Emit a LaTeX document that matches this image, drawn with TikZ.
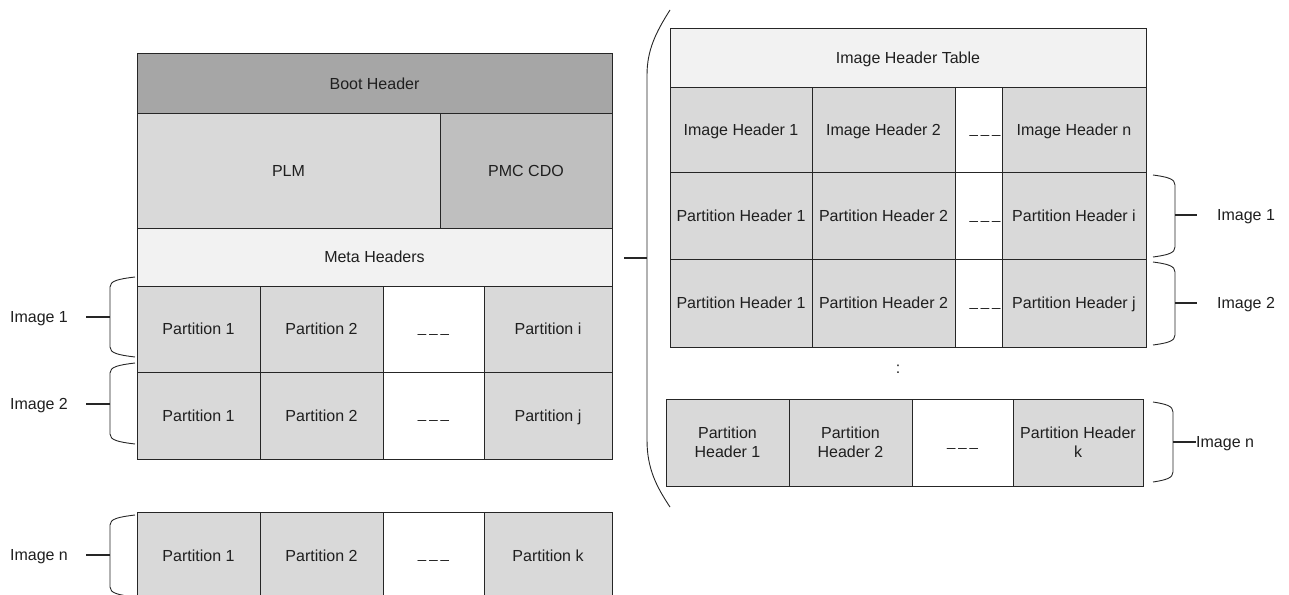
\documentclass[tikz,border=0pt]{standalone}
\usepackage{fontspec}
\setmainfont{Liberation Sans}
\definecolor{bootc}{HTML}{A6A6A6}
\definecolor{plmc}{HTML}{D9D9D9}
\definecolor{pmcc}{HTML}{BFBFBF}
\definecolor{metac}{HTML}{F2F2F2}
\definecolor{partc}{HTML}{D9D9D9}
\definecolor{linec}{HTML}{262626}
\tikzset{
  cellcore/.style={draw=linec, line width=1pt, inner sep=1pt, outer sep=0pt, align=center,
    font=\fontsize{16}{19}\selectfont, text=black!88},
  fixh/.style={text height=12.5pt, text depth=1.5pt},
  bootfill/.style={fill=bootc, fixh},
  plmfill/.style={fill=plmc, fixh},
  pmcfill/.style={fill=pmcc, fixh},
  metafill/.style={fill=metac, fixh},
  partfill/.style={fill=partc, fixh},
  multifill/.style={fill=partc},
  gapfill/.style={fill=white},
  dashtext/.style={inner sep=0pt, anchor=base, font=\fontsize{15}{18}\selectfont, text=black!88},
  lbl/.style={inner sep=0pt, fixh, font=\fontsize{16}{19}\selectfont, text=black!88},
  bracket/.style={draw=linec, line width=0.9pt},
  tieline/.style={draw=linec, line width=1.2pt}
}
\newcommand\cellnode[7]{%
  \node[cellcore,#6,minimum width={(#4-#2)*1pt},minimum height={(#5-#3)*1pt}] (#1) at ({(#2+#4)/2},{(#3+#5)/2}) {#7};}
\newcommand\dashnode[3]{\node[dashtext] (#1) at (#2,#3) {\_\kern3pt\_\kern3pt\_};}
\begin{document}
\begin{tikzpicture}[x=1pt,y=-1pt]
\useasboundingbox (0,0) rectangle (1289,594);
\clip (0,0) rectangle (1289,594);
% ---------- left column ----------
\cellnode{boot}{137}{54}{612}{113}{bootfill}{Boot Header}
\cellnode{plm}{137}{113}{440}{228}{plmfill}{PLM}
\cellnode{pmc}{440}{113}{612}{228}{pmcfill}{PMC CDO}
\cellnode{meta}{137}{228}{612}{286}{metafill}{Meta Headers}
% image 1 row
\cellnode{ap1}{137}{286}{260}{372}{partfill}{Partition 1}
\cellnode{ap2}{260}{286}{383}{372}{partfill}{Partition 2}
\cellnode{apg}{383}{286}{484}{372}{gapfill}{}
\cellnode{api}{484}{286}{612}{372}{partfill}{Partition i}
\dashnode{apd}{433.5}{332}
% image 2 row
\cellnode{bp1}{137}{372}{260}{459}{partfill}{Partition 1}
\cellnode{bp2}{260}{372}{383}{459}{partfill}{Partition 2}
\cellnode{bpg}{383}{372}{484}{459}{gapfill}{}
\cellnode{bpj}{484}{372}{612}{459}{partfill}{Partition j}
\dashnode{bpd}{433.5}{418.5}
% image n row
\cellnode{np1}{137}{512}{260}{599}{partfill}{Partition 1}
\cellnode{np2}{260}{512}{383}{599}{partfill}{Partition 2}
\cellnode{npg}{383}{512}{484}{599}{gapfill}{}
\cellnode{npk}{484}{512}{612}{599}{partfill}{Partition k}
\dashnode{npd}{433.5}{558.5}
% left labels and brackets
\node[lbl] (limg1) at (39,317) {Image 1};
\node[lbl] (limg2) at (39,404) {Image 2};
\node[lbl] (limgn) at (39,555) {Image n};
\coordinate (lb1tip) at (110,317);
\coordinate (lb2tip) at (110,404);
\coordinate (lbntip) at (110,555);
\coordinate (lb1end) at (86,317);
\coordinate (lb2end) at (86,404);
\coordinate (lbnend) at (86,555);
\draw[bracket] (135,277) .. controls (118,279) and (110,281) .. (110,287) -- (110,347) .. controls (110,353) and (118,355) .. (135,357);
\draw[bracket] (135,363) .. controls (118,365) and (110,367) .. (110,373) -- (110,434) .. controls (110,440) and (118,442) .. (135,444);
\draw[bracket] (135,515) .. controls (118,517) and (110,519) .. (110,525) -- (110,587) .. controls (110,593) and (118,595) .. (135,597);
\draw[tieline] (lb1tip) -- (lb1end);
\draw[tieline] (lb2tip) -- (lb2end);
\draw[tieline] (lbntip) -- (lbnend);
% ---------- big bracket ----------
\coordinate (bigtip) at (647,258);
\coordinate (metaout) at (624,258);
\draw[bracket] (670,10) .. controls (656,32) and (647,50) .. (647,75) -- (647,440) .. controls (647,468) and (656,486) .. (670,507);
\draw[tieline] (metaout) -- (bigtip);
% ---------- right table ----------
\cellnode{iht}{670}{29}{1146}{87}{metafill}{Image Header Table}
\cellnode{ih1}{670}{87}{812}{172}{partfill}{Image Header 1}
\cellnode{ih2}{812}{87}{955}{172}{partfill}{Image Header 2}
\cellnode{ihg}{955}{87}{1002}{172}{gapfill}{}
\cellnode{ihn}{1002}{87}{1146}{172}{partfill}{Image Header n}
\dashnode{ihd}{985}{133}
\cellnode{pa1}{670}{172}{812}{259}{partfill}{Partition Header 1}
\cellnode{pa2}{812}{172}{955}{259}{partfill}{Partition Header 2}
\cellnode{pag}{955}{172}{1002}{259}{gapfill}{}
\cellnode{pai}{1002}{172}{1146}{259}{partfill}{Partition Header i}
\dashnode{pad}{985}{219}
\cellnode{pb1}{670}{259}{812}{347}{partfill}{Partition Header 1}
\cellnode{pb2}{812}{259}{955}{347}{partfill}{Partition Header 2}
\cellnode{pbg}{955}{259}{1002}{347}{gapfill}{}
\cellnode{pbj}{1002}{259}{1146}{347}{partfill}{Partition Header j}
\dashnode{pbd}{985}{306}
\node[lbl] (vdots) at (898,368) {:};
\cellnode{pn1}{666}{399}{789}{486}{multifill}{Partition\\Header 1}
\cellnode{pn2}{789}{399}{912}{486}{multifill}{Partition\\Header 2}
\cellnode{png}{912}{399}{1013}{486}{gapfill}{}
\cellnode{pnk}{1013}{399}{1143}{486}{multifill}{Partition Header\\k}
\dashnode{pnd}{962.5}{446}
% right labels and brackets
\node[lbl] (rimg1) at (1246,215) {Image 1};
\node[lbl] (rimg2) at (1246,303) {Image 2};
\node[lbl,anchor=west] (rimgn) at (1196,442) {Image n};
\coordinate (rb1tip) at (1175,215);
\coordinate (rb2tip) at (1175,303);
\coordinate (rbntip) at (1173,442);
\coordinate (rb1end) at (1197,215);
\coordinate (rb2end) at (1197,303);
\draw[bracket] (1153,175) .. controls (1168,177) and (1175,179) .. (1175,185) -- (1175,247) .. controls (1175,253) and (1168,255) .. (1153,257);
\draw[bracket] (1153,262) .. controls (1168,264) and (1175,266) .. (1175,272) -- (1175,335) .. controls (1175,341) and (1168,343) .. (1153,345);
\draw[bracket] (1153,402) .. controls (1166,404) and (1173,406) .. (1173,412) -- (1173,472) .. controls (1173,478) and (1166,480) .. (1153,482);
\draw[tieline] (rb1tip) -- (rb1end);
\draw[tieline] (rb2tip) -- (rb2end);
\draw[tieline] (rbntip) -- (rimgn.west);
\end{tikzpicture}
\end{document}
